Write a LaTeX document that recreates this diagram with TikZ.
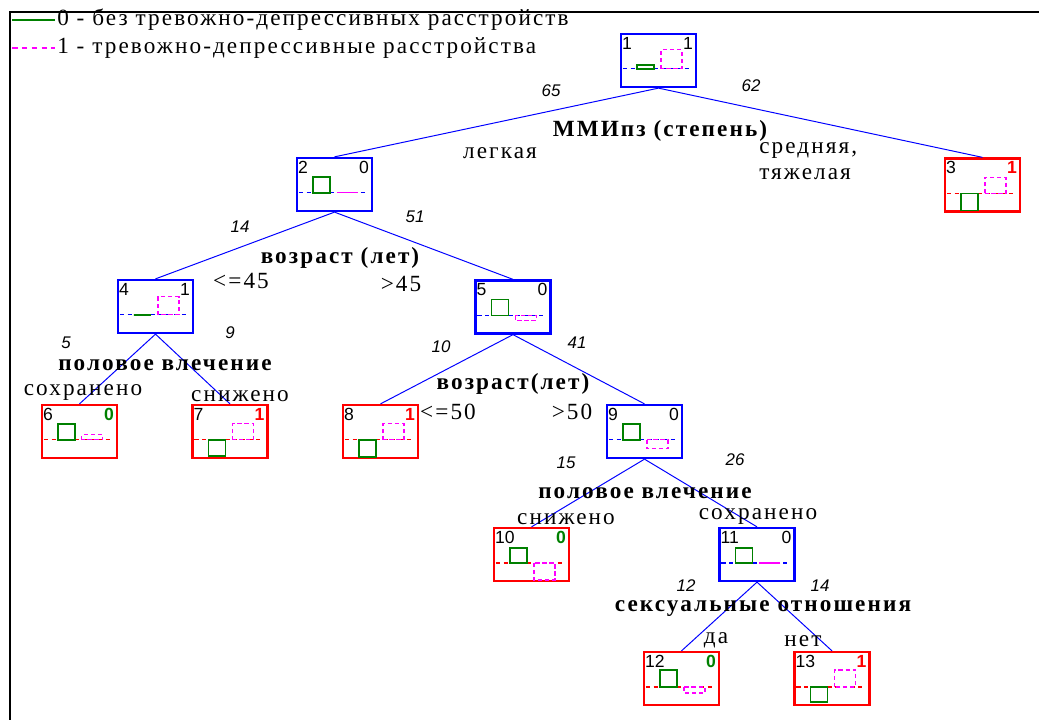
\documentclass[tikz,border=0pt]{standalone}
\usepackage{fontspec}
\usepackage{tikz}
\setmainfont{Liberation Serif}
\newfontfamily\lblfont[LetterSpace=9]{Liberation Serif}
\newfontfamily\cntfont{Liberation Sans}

\definecolor{grn}{RGB}{0,128,0}
\definecolor{mag}{RGB}{255,0,255}

\tikzset{
	bluebox/.style={draw=blue, line width=1.6pt, minimum width=1.875cm, minimum height=1.325cm, inner sep=0pt},
	redbox/.style={bluebox, draw=red},
	edge/.style={blue, line width=0.7pt},
	cnt/.style={inner sep=0pt, font=\cntfont\itshape\fontsize{12}{14}\selectfont},
	numtxt/.style={inner sep=0pt, font=\cntfont\fontsize{12.5}{14}\selectfont},
	cond/.style={inner sep=0pt, font=\lblfont\fontsize{16.5}{19}\selectfont},
	split/.style={inner sep=0pt, font=\lblfont\bfseries\fontsize{16.5}{19}\selectfont},
	baseln/.style={line width=0.9pt, dash pattern=on 3pt off 2.5pt},
	grnbar/.style={grn, line width=1pt},
	magbar/.style={mag, line width=0.9pt, dash pattern=on 3pt off 2pt}
}

% box contents: node, colour, number, class, green bar, magenta bar
\newcommand{\hist}[6]{%
	\node[numtxt, anchor=north west] (#1-id) at ([shift={(2,4)}]#1.north west) {#3};
	\node[numtxt, anchor=north east] (#1-cl) at ([shift={(-4,4)}]#1.north east) {#4};
	\draw[#2, baseln] ([shift={(3,36)}]#1.north west) -- ([shift={(72,36)}]#1.north west);
	\draw[grnbar] ([shift={(17,36)}]#1.north west) rectangle ([shift={(34,{36-(#5)})}]#1.north west);
	\draw[magbar] ([shift={(41,36)}]#1.north west) rectangle ([shift={(62,{36-(#6)})}]#1.north west);
}
\newcommand{\zero}{\textbf{\color{grn}0}}
\newcommand{\one}{\textbf{\color{red}1}}

\begin{document}
\begin{tikzpicture}[x=0.025cm, y=-0.025cm]
	\useasboundingbox (0,0) rectangle (1039,720);
	\draw[line width=1.4pt] (10,720) -- (10,12) -- (1039,12);

	% legend
	\coordinate (l0a) at (12,20);
	\coordinate (l0b) at (55,20);
	\coordinate (l1a) at (12,48);
	\coordinate (l1b) at (55,48);
	\draw[grn, line width=0.9pt] (l0a) -- (l0b);
	\draw[mag, line width=0.9pt, dash pattern=on 4pt off 3pt] (l1a) -- (l1b);
	\node[cond, anchor=west] (leg0) at (57,20) {0 - без тревожно-депрессивных расстройств};
	\node[cond, anchor=west] (leg1) at (57,48) {1 - тревожно-депрессивные расстройства};

	% boxes
	\node[bluebox] (n1) at (658.5,60.5) {};
	\node[bluebox] (n2) at (334.5,184.5) {};
	\node[redbox] (n3) at (982.5,185) {};
	\node[bluebox] (n4) at (155.5,306.5) {};
	\node[bluebox] (n5) at (513,307) {};
	\node[redbox] (n6) at (79.5,431.5) {};
	\node[redbox] (n7) at (230,431.5) {};
	\node[redbox] (n8) at (380.5,431.5) {};
	\node[bluebox] (n9) at (644.5,431.5) {};
	\node[redbox] (n10) at (531.5,554.5) {};
	\node[bluebox] (n11) at (757,554.5) {};
	\node[redbox] (n12) at (681.5,678.5) {};
	\node[redbox] (n13) at (832,678.5) {};

	\hist{n1}{blue}{1}{1}{4}{19}
	\hist{n2}{blue}{2}{0}{16}{0}
	\hist{n3}{red}{3}{\one}{-17}{16}
	\hist{n4}{blue}{4}{1}{0}{18}
	\hist{n5}{blue}{5}{0}{16}{-5}
	\hist{n6}{red}{6}{\zero}{16}{5}
	\hist{n7}{red}{7}{\one}{-16}{16}
	\hist{n8}{red}{8}{\one}{-17}{16}
	\hist{n9}{blue}{9}{0}{16}{-9}
	\hist{n10}{red}{10}{\zero}{15}{-17}
	\hist{n11}{blue}{11}{0}{15}{0}
	\hist{n12}{red}{12}{\zero}{17}{-6}
	\hist{n13}{red}{13}{\one}{-15}{17}

	% n1
	\draw[edge] (n1.south) -- (n2.north);
	\draw[edge] (n1.south) -- (n3.north);
	\node[cnt] (c2) at (551,91) {65};
	\node[cnt] (c3) at (751,86) {62};
	\node[split] (s1) at (660,131) {ММИпз (степень)};
	\node[cond] (t2) at (500,153) {легкая};
	\node[cond, align=left, anchor=north west] (t3) at (759,142) {средняя,\\тяжелая};
	% n2
	\draw[edge] (n2.south) -- (n4.north);
	\draw[edge] (n2.south) -- (n5.north);
	\node[cnt] (c4) at (240,227) {14};
	\node[cnt] (c5) at (415,217) {51};
	\node[split] (s2) at (340,258) {возраст (лет)};
	\node[cond] (t4) at (241,281) {<=45};
	\node[cond] (t5) at (401,284) {>45};
	% n4
	\draw[edge] (n4.south) -- (n6.north);
	\draw[edge] (n4.south) -- (n7.north);
	\node[cnt] (c6) at (66,343) {5};
	\node[cnt] (c7) at (230,333) {9};
	\node[split] (s4) at (165,365) {половое влечение};
	\node[cond] (t6) at (83,393) {сохранено};
	\node[cond] (t7) at (240,396) {снижено};
	% n5
	\draw[edge] (n5.south) -- (n8.north);
	\draw[edge] (n5.south) -- (n9.north);
	\node[cnt] (c8) at (441,347) {10};
	\node[cnt] (c9) at (577,343) {41};
	\node[split] (s5) at (513,384) {возраст(лет)};
	\node[cond] (t8) at (448,412) {<=50};
	\node[cond] (t9) at (572,412) {>50};
	% n9
	\draw[edge] (n9.south) -- (n10.north);
	\draw[edge] (n9.south) -- (n11.north);
	\node[cnt] (c10) at (566,463) {15};
	\node[cnt] (c11) at (735,460) {26};
	\node[split] (s9) at (645,493) {половое влечение};
	\node[cond] (t10) at (566,519) {снижено};
	\node[cond] (t11) at (758,517) {сохранено};
	% n11
	\draw[edge] (n11.south) -- (n12.north);
	\draw[edge] (n11.south) -- (n13.north);
	\node[cnt] (c12) at (686,586) {12};
	\node[cnt] (c13) at (820,586) {14};
	\node[split] (s11) at (763,609) {сексуальные отношения};
	\node[cond] (t12) at (716,640) {да};
	\node[cond] (t13) at (803,641) {нет};
\end{tikzpicture}
\end{document}
